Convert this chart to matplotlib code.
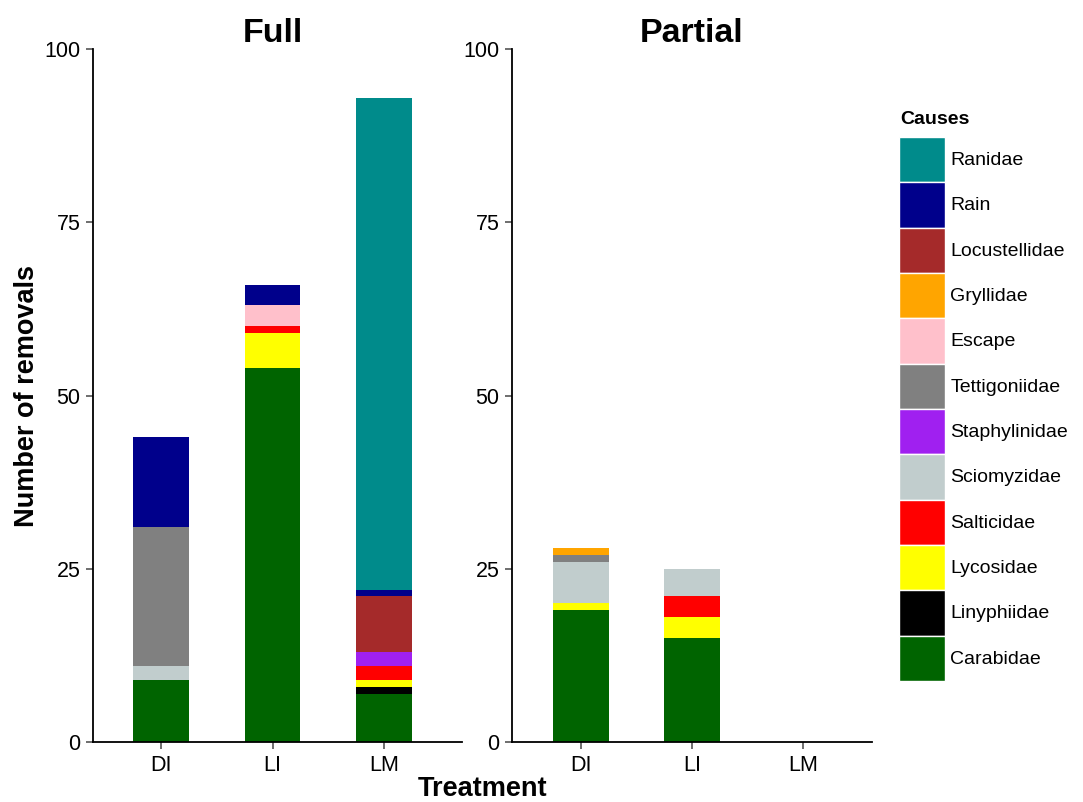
import matplotlib.pyplot as plt
import numpy as np
from matplotlib.patches import Patch

plt.rcParams['font.family'] = ['Liberation Sans', 'DejaVu Sans']

treatments = ['DI', 'LI', 'LM']
panels = ['Full', 'Partial']

# stacking order bottom -> top
causes = ['Carabidae', 'Linyphiidae', 'Lycosidae', 'Salticidae', 'Sciomyzidae',
          'Staphylinidae', 'Tettigoniidae', 'Escape', 'Gryllidae', 'Locustellidae',
          'Rain', 'Ranidae']
colors = ['#006400', '#000000', '#FFFF00', '#FF0000', '#C1CDCD', '#A020F0',
          '#808080', '#FFC0CB', '#FFA500', '#A52A2A', '#00008B', '#008B8B']

# counts per cause for DI, LI, LM
full = {
    'Carabidae':     [9, 54, 7],
    'Linyphiidae':   [0, 0, 1],
    'Lycosidae':     [0, 5, 1],
    'Salticidae':    [0, 1, 2],
    'Sciomyzidae':   [2, 0, 0],
    'Staphylinidae': [0, 0, 2],
    'Tettigoniidae': [20, 0, 0],
    'Escape':        [0, 3, 0],
    'Gryllidae':     [0, 0, 0],
    'Locustellidae': [0, 0, 8],
    'Rain':          [13, 3, 1],
    'Ranidae':       [0, 0, 71],
}
partial = {
    'Carabidae':     [19, 15, 0],
    'Linyphiidae':   [0, 0, 0],
    'Lycosidae':     [1, 3, 0],
    'Salticidae':    [0, 3, 0],
    'Sciomyzidae':   [6, 4, 0],
    'Staphylinidae': [0, 0, 0],
    'Tettigoniidae': [1, 0, 0],
    'Escape':        [0, 0, 0],
    'Gryllidae':     [1, 0, 0],
    'Locustellidae': [0, 0, 0],
    'Rain':          [0, 0, 0],
    'Ranidae':       [0, 0, 0],
}

fig = plt.figure(figsize=(10.83, 8.02), dpi=100)
ax1 = fig.add_axes([0.0859, 0.0748, 0.3407, 0.864])
ax2 = fig.add_axes([0.4728, 0.0748, 0.3324, 0.864])
lims = [(-0.61, 2.70), (-0.62, 2.62)]

x = np.arange(len(treatments))
for ax, data, title, lim in zip([ax1, ax2], [full, partial], panels, lims):
    bottom = np.zeros(len(treatments))
    for c, col in zip(causes, colors):
        vals = np.array(data[c], dtype=float)
        ax.bar(x, vals, 0.5, bottom=bottom, color=col, edgecolor='none')
        bottom += vals
    ax.set_xlim(*lim)
    ax.set_ylim(0, 100)
    ax.set_yticks([0, 25, 50, 75, 100])
    ax.set_xticks(x)
    ax.set_xticklabels(treatments)
    ax.set_title(title, fontsize=24.5, fontweight='bold', pad=2,
                 x=(1 - lim[0]) / (lim[1] - lim[0]))
    for s in ['top', 'right']:
        ax.spines[s].set_visible(False)
    for s in ['left', 'bottom']:
        ax.spines[s].set_linewidth(1.3)
    ax.tick_params(labelsize=15.5, length=5, width=1.2, color='#555555', pad=4)

ax1.set_ylabel('Number of removals', fontsize=19.5, fontweight='bold', labelpad=3)
fig.text(0.446, 0.008, 'Treatment', fontsize=19.5, fontweight='bold', ha='center')

handles = [Patch(facecolor=col, edgecolor='white', linewidth=1) for col in colors][::-1]
leg = fig.legend(handles, causes[::-1], loc='upper left', bbox_to_anchor=(0.8207, 0.8415),
                 fontsize=14, frameon=False,
                 handlelength=2.37, handleheight=3.21, labelspacing=0.0,
                 handletextpad=0.3, borderpad=0)
fig.text(900 / 1083, 1 - 120 / 802, 'Causes', fontsize=14, fontweight='bold',
         ha='left', va='center')

fig.savefig('out.png', dpi=100)
